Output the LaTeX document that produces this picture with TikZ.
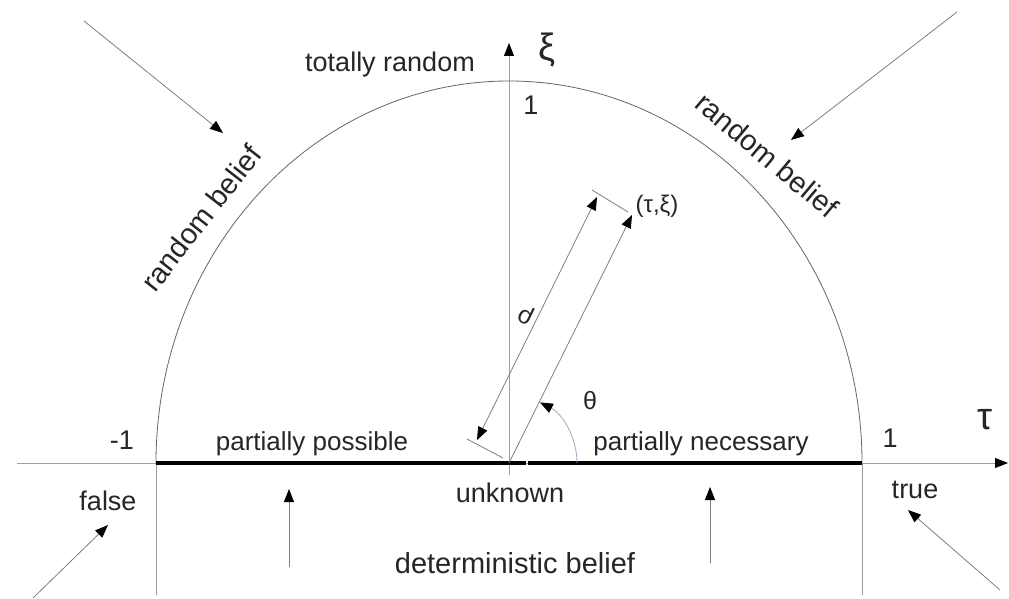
\documentclass[tikz,border=0pt]{standalone}
\usepackage{fontspec}
\setmainfont{Liberation Sans}
\usetikzlibrary{arrows.meta}
\begin{document}
\begin{tikzpicture}[x=1pt,y=-1pt,
  lbl/.style={font=\fontsize{27}{30}\selectfont, text=black!85, inner sep=0pt},
  big/.style={font=\fontsize{38}{40}\selectfont, text=black!85, inner sep=0pt},
  axisline/.style={draw=black!38, line width=0.9pt},
  arcline/.style={draw=black!60, line width=0.8pt},
  ptr/.style={draw=black!50, line width=0.8pt},
  tip/.style={-{Triangle[length=13pt,width=10pt,color=black]}},
  tips/.style={{Triangle[length=13pt,width=10pt,color=black]}-{Triangle[length=13pt,width=10pt,color=black]}},
]
\useasboundingbox (0,0) rectangle (1009,599);
\fill[white] (0,0) rectangle (1009,599);
% key points
\coordinate (O) at (509,463);
\coordinate (xs) at (17,463);
\coordinate (xe) at (1008,463);
\coordinate (ys) at (509,475);
\coordinate (ye) at (509,43);
\coordinate (L) at (156,463);
\coordinate (R) at (862,463);
\coordinate (Lb) at (156,595);
\coordinate (Rb) at (862,595);
\coordinate (g1) at (526,463);
\coordinate (g2) at (528,463);
% axes
\draw[axisline,tip] (xs) -- (xe);
\draw[axisline,tip] (ys) -- (ye);
% semicircle
\draw[arcline] (L) arc[start angle=180,end angle=360,x radius=353,y radius=382];
\draw[axisline] (L) -- (Lb);
\draw[axisline] (R) -- (Rb);
% thick segment (with its small break)
\draw[line width=4pt,black] (L) -- (g1);
\draw[line width=4pt,black] (g2) -- (R);
% rho construction
\coordinate (r1) at (477,440);
\coordinate (r2) at (597,197);
\coordinate (t1a) at (467,439);
\coordinate (t1b) at (503,458);
\coordinate (t2a) at (592,190);
\coordinate (t2b) at (628,212);
\coordinate (P) at (632,215);
\draw[ptr] (t1a) -- (t1b);
\draw[ptr] (t2a) -- (t2b);
\draw[ptr,tips] (r1) -- (r2);
\draw[ptr,tip] (O) -- (P);
\draw[draw=blue!35!black!35, line width=0.8pt, tip] (O) ++(68,0) arc[start angle=0,end angle=-63,radius=68];
% pointer arrows
\coordinate (a1s) at (84,21);   \coordinate (a1e) at (223,133);
\coordinate (a2s) at (957,12);  \coordinate (a2e) at (791,140);
\coordinate (a3s) at (33,598);  \coordinate (a3e) at (108,525);
\coordinate (a4s) at (1000,590);\coordinate (a4e) at (908,510);
\coordinate (a5s) at (289,567); \coordinate (a5e) at (289,489);
\coordinate (a6s) at (710,563); \coordinate (a6e) at (710,487);
\foreach \s/\e in {a1s/a1e,a2s/a2e,a3s/a3e,a4s/a4e,a5s/a5e,a6s/a6e}
  \draw[ptr,tip] (\s) -- (\e);
% labels
\node[big] (xi) at (547,50) {ξ};
\node[big] (tau) at (985,420) {τ};
\node[lbl,anchor=base east] (tr) at (475,72) {totally random};
\node[lbl] (one) at (531,105) {1};
\node[lbl] (mone) at (122,440) {-1};
\node[lbl] (pone) at (890,438) {1};
\node[lbl,font=\fontsize{29}{31}\selectfont,rotate=52] (rbl) at (201,218) {random belief};
\node[lbl,font=\fontsize{29}{31}\selectfont,rotate=-40] (rbr) at (767,155) {random belief};
\node[lbl,font=\fontsize{24}{26}\selectfont] (pt) at (657,206) {(τ,ξ)};
\node[lbl,font=\fontsize{25}{26}\selectfont] (th) at (590,401) {θ};
\node[lbl,font=\fontsize{25}{26}\selectfont,rotate=154] (rho) at (526,315) {ρ};
\node[lbl,font=\fontsize{26}{28}\selectfont,anchor=base] (pp) at (312,450) {partially possible};
\node[lbl,font=\fontsize{26}{28}\selectfont,anchor=base] (pn) at (701,450) {partially necessary};
\node[lbl,anchor=base] (unk) at (510,502) {unknown};
\node[lbl,anchor=base] (fa) at (108,510) {false};
\node[lbl,anchor=base] (tru) at (915,498) {true};
\node[lbl,font=\fontsize{29}{31}\selectfont,anchor=base] (det) at (515,573) {deterministic belief};
\end{tikzpicture}
\end{document}
